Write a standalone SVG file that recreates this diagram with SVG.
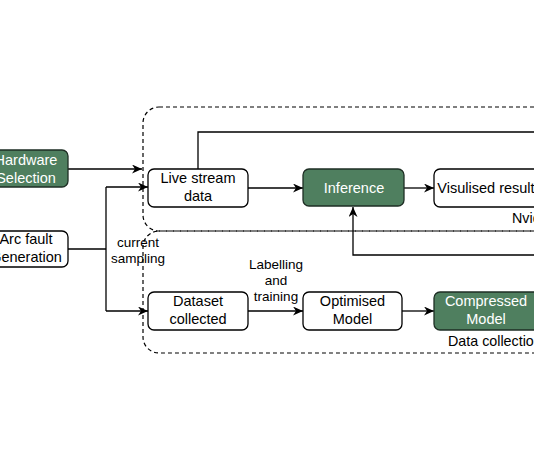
<svg xmlns="http://www.w3.org/2000/svg" width="534" height="462" viewBox="0 0 534 462">
<defs>
<marker id="arr" markerWidth="12" markerHeight="10" refX="10" refY="4.5" orient="auto" markerUnits="userSpaceOnUse">
<path d="M0,0 L10,4.5 L0,9 L3,4.5 z" fill="#000"/>
</marker>
<style>
.box{fill:#fff;stroke:#000;stroke-width:1.3}
.g{fill:#4f7f5f;stroke:#1e2e24;stroke-width:1.3}
.grp{fill:none;stroke:#000;stroke-width:1.2;stroke-dasharray:4,3}
.t{font-family:"Liberation Sans",Arial,sans-serif;font-size:14.5px;fill:#000;text-anchor:middle}
.w{fill:#fff}
.lbl{font-family:"Liberation Sans",Arial,sans-serif;font-size:13.5px;fill:#000;text-anchor:middle}
.gl{font-family:"Liberation Sans",Arial,sans-serif;font-size:14.3px;fill:#000}
.c{fill:none;stroke:#000;stroke-width:1.3}
</style>
</defs>
<rect width="534" height="462" fill="#fff"/>
<g id="group-nvidia">
<rect class="grp" x="143" y="107" width="420" height="124" rx="16"/>
<text class="gl" x="512" y="223">Nvidia</text>
</g>
<g id="group-datacollection">
<rect class="grp" x="143" y="231" width="420" height="122" rx="16"/>
<text class="gl" x="448" y="346">Data collection</text>
</g>
<g id="connectors">
<path class="c" d="M68,169 H142" marker-end="url(#arr)"/>
<path class="c" d="M68,249 H106"/>
<path class="c" d="M106,187 V311"/>
<path class="c" d="M106,187 H148" marker-end="url(#arr)"/>
<path class="c" d="M106,311 H148" marker-end="url(#arr)"/>
<path class="c" d="M248,188 H303" marker-end="url(#arr)"/>
<path class="c" d="M404,188 H434" marker-end="url(#arr)"/>
<path class="c" d="M198,169 V132 H545"/>
<path class="c" d="M545,255 H353 V207" marker-end="url(#arr)"/>
<path class="c" d="M248,311 H303" marker-end="url(#arr)"/>
<path class="c" d="M402,311 H434" marker-end="url(#arr)"/>
<text class="lbl" x="138" y="247">current</text>
<text class="lbl" x="138" y="263">sampling</text>
<text class="lbl" x="276" y="269">Labelling</text>
<text class="lbl" x="276" y="285">and</text>
<text class="lbl" x="276" y="301">training</text>
</g>
<g id="hardware">
<rect class="g" x="-16" y="150" width="84" height="37" rx="6"/>
<text class="t w" x="26" y="164.5">Hardware</text>
<text class="t w" x="26" y="182.5">Selection</text>
</g>
<g id="arcfault">
<rect class="box" x="-16" y="231" width="84" height="36" rx="6"/>
<text class="t" x="26" y="244">Arc fault</text>
<text class="t" x="26" y="262">Generation</text>
</g>
<g id="livestream">
<rect class="box" x="148" y="169" width="100" height="38" rx="6"/>
<text class="t" x="198" y="183">Live stream</text>
<text class="t" x="198" y="201">data</text>
</g>
<g id="inference">
<rect class="g" x="303" y="169" width="101" height="37" rx="6"/>
<text class="t w" x="354" y="192.5">Inference</text>
</g>
<g id="visualised">
<rect class="box" x="434" y="169" width="110" height="38" rx="6"/>
<text class="t" x="486" y="192.5">Visulised result</text>
</g>
<g id="dataset">
<rect class="box" x="148" y="292" width="100" height="38" rx="6"/>
<text class="t" x="198" y="306">Dataset</text>
<text class="t" x="198" y="324">collected</text>
</g>
<g id="optimised">
<rect class="box" x="303" y="292" width="99" height="38" rx="6"/>
<text class="t" x="352.5" y="306">Optimised</text>
<text class="t" x="352.5" y="324">Model</text>
</g>
<g id="compressed">
<rect class="g" x="434" y="292" width="110" height="38" rx="6"/>
<text class="t w" x="486" y="306">Compressed</text>
<text class="t w" x="486" y="324">Model</text>
</g>
</svg>
